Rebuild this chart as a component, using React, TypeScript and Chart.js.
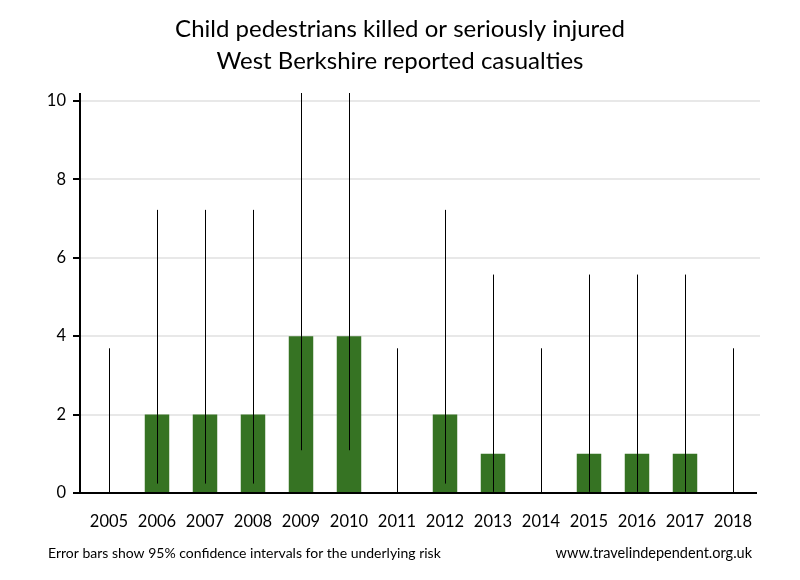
import React, { useEffect, useRef } from "react";
import { Chart, registerables } from "chart.js";

Chart.register(...registerables);

const years = ["2005","2006","2007","2008","2009","2010","2011","2012","2013","2014","2015","2016","2017","2018"];
const casualties = [0, 2, 2, 2, 4, 4, 0, 2, 1, 0, 1, 1, 1, 0];
const ciLow = [0, 0.24, 0.24, 0.24, 1.09, 1.09, 0, 0.24, 0.03, 0, 0.03, 0.03, 0.03, 0];
const ciHigh = [3.69, 7.22, 7.22, 7.22, 10.24, 10.24, 3.69, 7.22, 5.57, 3.69, 5.57, 5.57, 5.57, 3.69];
const yTicks = [0, 2, 4, 6, 8, 10];
const titleLines = ["Child pedestrians killed or seriously injured", "West Berkshire reported casualties"];
const footLeft = "Error bars show 95% confidence intervals for the underlying risk";
const footRight = "www.travelindependent.org.uk";

const FONT = "Lato, 'Open Sans', sans-serif";

export default function App() {
  const ref = useRef<HTMLCanvasElement | null>(null);
  useEffect(() => {
    document.body.style.margin = "0";
    const canvas = ref.current!;
    const deco = {
      id: "deco",
      beforeDatasetsDraw(chart: any) {
        const { ctx, chartArea, scales } = chart;
        const y = scales.y;
        const axX = chartArea.left - 5;
        ctx.save();
        ctx.strokeStyle = "#e8e8e8";
        ctx.lineWidth = 2;
        for (const t of yTicks) {
          if (t === 0) continue;
          const py = Math.round(y.getPixelForValue(t));
          ctx.beginPath();
          ctx.moveTo(axX, py);
          ctx.lineTo(chartArea.right + 3, py);
          ctx.stroke();
        }
        ctx.restore();
      },
      afterDatasetsDraw(chart: any) {
        const { ctx, chartArea, scales } = chart;
        const x = scales.x;
        const y = scales.y;
        ctx.save();
        ctx.beginPath();
        ctx.rect(chartArea.left - 10, chartArea.top, chartArea.right - chartArea.left + 20, chartArea.bottom - chartArea.top);
        ctx.clip();
        ctx.strokeStyle = "#000";
        ctx.lineWidth = 1;
        years.forEach((_, i) => {
          const px = Math.round(x.getPixelForValue(i)) + 0.5;
          ctx.beginPath();
          ctx.moveTo(px, y.getPixelForValue(ciLow[i]));
          ctx.lineTo(px, y.getPixelForValue(ciHigh[i]));
          ctx.stroke();
        });
        ctx.restore();
        ctx.save();
        const axX = chartArea.left - 5;
        ctx.strokeStyle = "#000";
        ctx.lineWidth = 2;
        ctx.beginPath();
        ctx.moveTo(axX, chartArea.top);
        ctx.lineTo(axX, chartArea.bottom);
        ctx.lineTo(chartArea.right, chartArea.bottom);
        ctx.stroke();
        for (const t of yTicks) {
          const py = Math.round(y.getPixelForValue(t));
          ctx.beginPath();
          ctx.moveTo(axX - 7, py);
          ctx.lineTo(axX, py);
          ctx.stroke();
        }
        ctx.fillStyle = "#000";
        ctx.textAlign = "center";
        ctx.textBaseline = "middle";
        ctx.font = `24px ${FONT}`;
        ctx.fillText(titleLines[0], 400, 29);
        ctx.fillText(titleLines[1], 400, 61);
        ctx.font = `14px ${FONT}`;
        ctx.textAlign = "left";
        ctx.fillText(footLeft, 48, 553);
        ctx.textAlign = "right";
        ctx.font = `14.5px ${FONT}`;
        ctx.fillText(footRight, 752, 553);
        ctx.restore();
      },
    };
    const chart = new Chart(canvas, {
      type: "bar",
      data: {
        labels: years,
        datasets: [
          {
            data: casualties,
            backgroundColor: "#367323",
            barPercentage: 0.51,
            categoryPercentage: 1,
          },
        ],
      },
      options: {
        animation: false,
        responsive: false,
        layout: { padding: { left: 0, top: 93, right: 43, bottom: 0 } },
        plugins: { legend: { display: false }, title: { display: false }, tooltip: { enabled: false } },
        scales: {
          x: {
            grid: { display: false, drawTicks: false },
            border: { display: false },
            ticks: { color: "#000", font: { family: FONT, size: 16.5 }, padding: 19, maxRotation: 0, autoSkip: false },
            afterFit: (s: any) => { s.height = 87; },
          },
          y: {
            min: 0,
            max: 10.2,
            grid: { display: false, drawTicks: false },
            border: { display: false },
            afterBuildTicks: (s: any) => { s.ticks = yTicks.map((v) => ({ value: v })); },
            ticks: { color: "#000", font: { family: FONT, size: 16.5 }, padding: 19 },
            afterFit: (s: any) => { s.width = 85; },
          },
        },
      },
      plugins: [deco],
    });
    return () => chart.destroy();
  }, []);
  return <canvas ref={ref} width={800} height={580} style={{ display: "block" }} />;
}
